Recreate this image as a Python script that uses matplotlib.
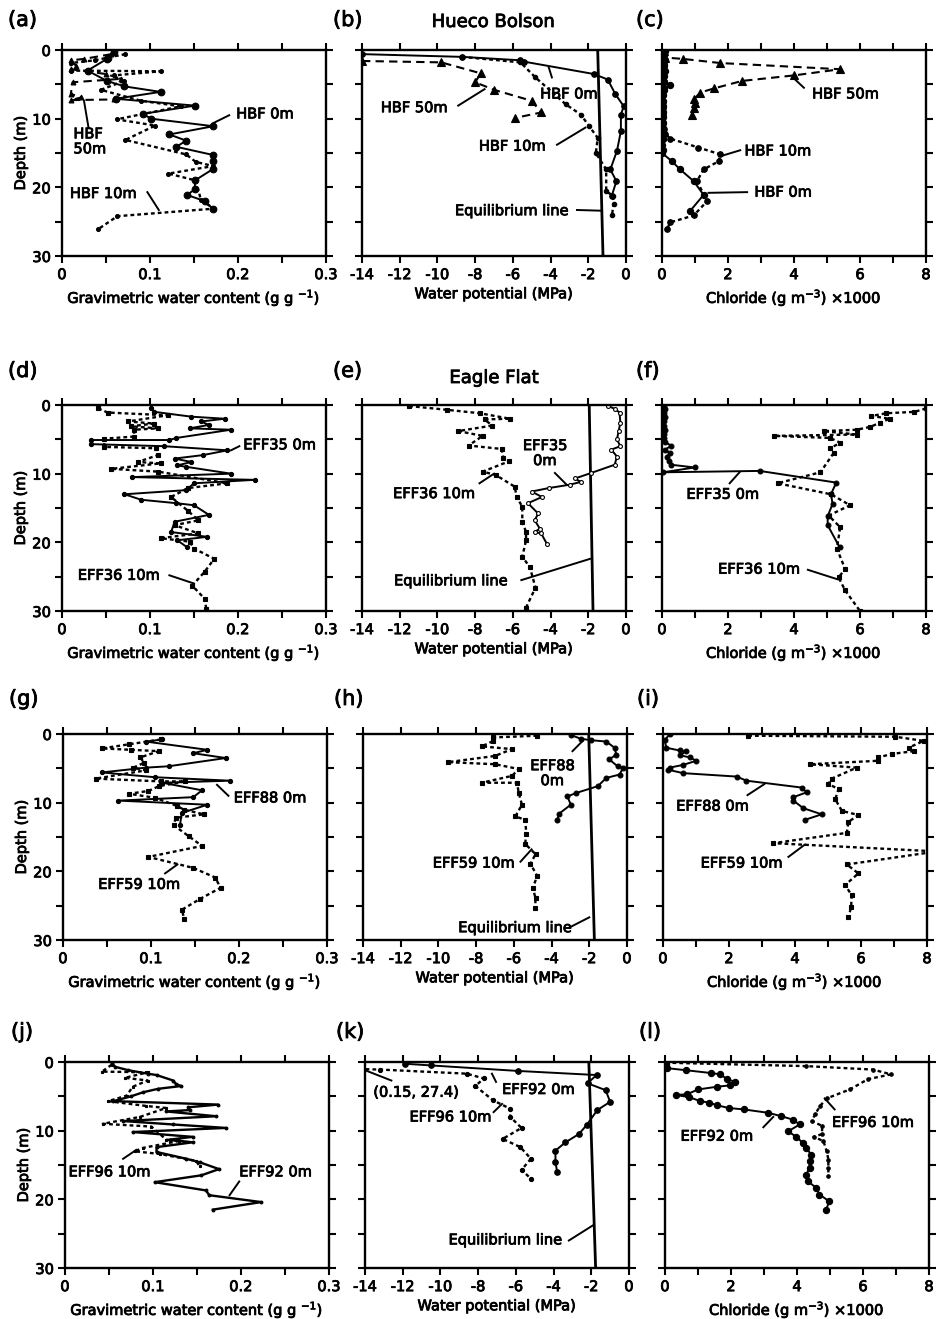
import matplotlib
matplotlib.use('Agg')
import matplotlib.pyplot as plt
import matplotlib.patheffects as pe
from matplotlib.text import Text
from matplotlib.ticker import MultipleLocator, FuncFormatter

plt.rcParams['font.family'] = ['DejaVu Sans']
plt.rcParams['axes.unicode_minus'] = False
plt.rcParams['mathtext.default'] = 'regular'
plt.rcParams['font.size'] = 10.5

# ---------------- data (value, depth in m) ----------------
# (a) Hueco Bolson, gravimetric water content
a_hbf0_x = [0.059, 0.052, 0.051, 0.029, 0.051, 0.071, 0.112, 0.061, 0.151, 0.092, 0.101, 0.172, 0.122,
            0.141, 0.130, 0.172, 0.172, 0.172, 0.151, 0.151, 0.142, 0.162, 0.172]
a_hbf0_d = [0.3, 1.1, 1.3, 3.0, 4.5, 5.3, 6.1, 7.1, 8.1, 9.3, 10.0, 11.1, 12.3, 13.2, 14.1, 15.3, 16.2,
            17.3, 19.0, 20.3, 21.1, 22.0, 23.2]
a_hbf10_x = [0.072, 0.037, 0.010, 0.010, 0.112, 0.059, 0.071, 0.044, 0.090, 0.135, 0.062, 0.106, 0.072,
             0.141, 0.152, 0.172, 0.121, 0.152, 0.158, 0.173, 0.063, 0.041]
a_hbf10_d = [0.6, 1.5, 1.9, 3.0, 3.1, 3.7, 4.5, 5.8, 7.4, 8.2, 10.1, 11.0, 13.1, 15.2, 16.3, 16.9, 18.0,
             19.0, 21.9, 23.1, 24.2, 26.1]
a_hbf50_x = [0.056, 0.025, 0.010, 0.016, 0.010, 0.050, 0.067, 0.012, 0.010, 0.022, 0.010, 0.059]
a_hbf50_d = [0.6, 1.3, 1.5, 2.3, 2.8, 3.5, 4.2, 4.7, 6.4, 6.9, 7.3, 7.2]

# (b) Hueco Bolson, water potential (MPa)
b_hbf0_x = [-14.0, -8.7, -5.6, -5.4, -1.7, -0.97, -0.57, -0.12, -0.27, -0.27, -0.48, -0.83, -0.51, -0.75]
b_hbf0_d = [0.6, 1.0, 1.5, 1.7, 3.5, 4.3, 6.4, 8.2, 9.4, 11.8, 14.7, 17.4, 19.1, 21.2]
b_hbf10_x = [-8.7, -5.6, -4.8, -3.2, -2.4, -1.95, -1.5, -1.6, -1.05, -1.05, -0.69, -0.66, -0.74]
b_hbf10_d = [1.0, 1.8, 4.0, 7.9, 9.4, 11.1, 12.8, 15.0, 17.4, 20.6, 21.2, 22.4, 24.0]
b_hbf50_x = [-14.0, -9.8, -7.7, -8.0, -7.0, -5.0, -4.5, -5.9]
b_hbf50_d = [1.6, 1.8, 3.4, 4.7, 5.8, 7.4, 9.1, 9.9]
b_eq_x = [-1.5, -1.22]

# (c) Hueco Bolson, chloride (g m-3 x1000)
c_hbf0_x = [0.1, 0.05, 0.1, 0.05, 0.08, 0.05, 0.06, 0.25, 0.05, 0.04, 0.03, 0.02, 0.02, 0.03, 0.02,
            0.03, 0.02, 0.02, 0.01, 0.02, 0.0, 0.3, 0.55, 0.96, 1.26, 0.86]
c_hbf0_d = [0.2, 0.8, 1.5, 2.2, 3.0, 3.8, 4.6, 5.1, 5.8, 6.6, 7.4, 8.2, 9.0, 9.8, 10.6, 11.4, 12.2,
            13.0, 13.8, 14.6, 15.0, 16.2, 17.4, 19.1, 21.1, 23.4]
c_hbf10_x = [0.05, 0.08, 0.06, 0.04, 0.05, 0.05, 0.04, 0.03, 0.02, 0.03, 0.02, 0.05, 0.1, 0.25, 1.1,
             1.77, 1.72, 1.26, 1.06, 1.37, 0.96, 0.25, 0.15]
c_hbf10_d = [0.5, 1.5, 2.5, 3.5, 4.5, 5.5, 6.5, 7.5, 8.5, 9.5, 10.5, 11.5, 12.2, 12.9, 14.2, 15.2,
             16.2, 17.4, 19.1, 22.0, 24.1, 25.1, 26.1]
c_hbf50_x = [0.05, 0.1, 0.64, 1.77, 5.4, 4.0, 2.43, 1.57, 1.16, 0.96, 1.0, 0.96, 0.9]
c_hbf50_d = [0.1, 1.1, 1.3, 1.9, 2.8, 3.7, 4.5, 5.6, 6.2, 7.2, 7.7, 8.4, 9.4]

# (d) Eagle Flat EFF35 / EFF36, water content
d_eff35_x = [0.101, 0.105, 0.147, 0.185, 0.158, 0.167, 0.145, 0.192, 0.130, 0.122, 0.033, 0.033, 0.116,
             0.188, 0.160, 0.128, 0.147, 0.131, 0.141, 0.192, 0.080, 0.219, 0.150, 0.141, 0.071, 0.090,
             0.130, 0.150, 0.167, 0.128, 0.124, 0.165, 0.131, 0.142]
d_eff35_d = [0.4, 1.0, 1.7, 2.0, 2.4, 2.9, 3.4, 3.6, 4.8, 5.1, 5.1, 5.7, 6.0, 6.6, 7.3, 7.8, 8.3, 8.8,
             9.0, 10.0, 10.5, 10.9, 11.4, 12.4, 13.0, 13.8, 14.3, 14.6, 16.0, 17.0, 18.5, 19.2, 19.7, 20.7]
d_eff36_x = [0.041, 0.052, 0.120, 0.075, 0.105, 0.078, 0.109, 0.082, 0.082, 0.048, 0.048, 0.107, 0.109,
             0.086, 0.112, 0.056, 0.109, 0.188, 0.143, 0.124, 0.143, 0.155, 0.128, 0.155, 0.112, 0.145,
             0.150, 0.173, 0.162, 0.148, 0.162, 0.164]
d_eff36_d = [0.5, 1.1, 1.5, 2.4, 2.7, 3.1, 3.4, 3.6, 4.6, 4.9, 6.1, 6.3, 7.3, 8.3, 8.5, 9.3, 9.7, 11.4,
             12.1, 13.4, 15.4, 16.8, 17.5, 18.7, 19.4, 19.9, 20.9, 22.4, 24.3, 26.3, 28.2, 29.7]

# (e) Eagle Flat EFF35 / EFF36, water potential
e_eff35_x = [-0.93, -0.57, -0.34, -0.3, -0.39, -0.48, -0.3, -0.78, -0.48, -0.6, -1.85, -2.7, -2.4,
             -2.97, -4.1, -5.0, -4.46, -5.2, -4.66, -4.84, -4.57, -4.84, -4.5, -4.2]
e_eff35_d = [0.15, 0.6, 1.1, 2.6, 3.8, 5.0, 6.0, 6.5, 7.5, 8.7, 9.9, 10.7, 11.2, 11.6, 12.1, 12.6, 13.4,
             14.3, 15.8, 16.8, 18.0, 18.5, 18.7, 20.2]
e_eff36_x = [-11.5, -9.5, -7.75, -6.15, -7.5, -7.1, -8.9, -7.6, -8.35, -6.6, -6.5, -6.2, -7.6, -6.9,
             -5.9, -5.8, -5.5, -5.5, -5.3, -5.3, -5.5, -5.1, -4.8, -5.3]
e_eff36_d = [0.15, 0.7, 1.2, 2.0, 2.1, 3.0, 3.8, 4.5, 5.9, 6.4, 7.7, 8.2, 9.7, 10.2, 11.9, 13.4, 14.8,
             17.0, 18.5, 19.7, 22.1, 23.6, 26.6, 29.5]
e_eq_x = [-1.95, -1.75]

# (f) Eagle Flat EFF35 / EFF36, chloride
f_eff35_x = [0.05, 0.08, 0.06, 0.08, 0.07, 0.06, 0.08, 0.07, 0.06, 0.08, 0.28, 0.1, 0.23, 0.15, 0.2,
             0.28, 0.99, 0.03, 2.96, 5.28, 5.12, 5.17, 5.02, 5.02, 5.38]
f_eff35_d = [0.1, 0.6, 1.2, 1.8, 2.4, 3.0, 3.6, 4.2, 4.8, 5.4, 5.9, 6.5, 7.0, 7.6, 8.2, 8.7, 9.1, 9.8,
             9.6, 11.3, 13.0, 14.4, 16.2, 17.5, 20.7]
f_eff36_x = [8.0, 7.65, 6.8, 6.34, 6.9, 6.6, 6.3, 5.9, 4.9, 5.9, 3.4, 5.1, 5.4, 5.1, 5.2, 4.8, 3.5, 5.12,
             5.7, 5.05, 5.4, 5.3, 5.55, 5.35, 5.55, 6.0]
f_eff36_d = [0.5, 1.0, 1.2, 1.6, 2.0, 2.6, 3.2, 3.6, 3.8, 4.3, 4.5, 4.8, 5.5, 6.3, 7.0, 9.8, 11.4, 13.0,
             14.6, 16.1, 17.8, 20.9, 23.9, 25.1, 27.0, 30.0]

# (g) Eagle Flat EFF88 / EFF59, water content
g_eff88_x = [0.113, 0.094, 0.164, 0.148, 0.185, 0.120, 0.094, 0.044, 0.105, 0.190, 0.113, 0.158, 0.148,
             0.063, 0.164, 0.135, 0.133]
g_eff88_d = [0.8, 1.1, 2.3, 2.8, 3.5, 4.7, 4.9, 5.6, 6.3, 6.8, 7.1, 8.2, 9.2, 9.7, 10.3, 11.5, 13.2]
g_eff59_x = [0.111, 0.075, 0.044, 0.077, 0.109, 0.088, 0.092, 0.080, 0.094, 0.037, 0.111, 0.139, 0.109,
             0.097, 0.075, 0.105, 0.130, 0.137, 0.160, 0.128, 0.126, 0.143, 0.158, 0.097, 0.148, 0.173,
             0.179, 0.156, 0.135, 0.138]
g_eff59_d = [0.8, 1.5, 2.1, 2.3, 2.5, 3.4, 4.2, 4.9, 5.3, 6.5, 6.9, 6.9, 7.6, 8.3, 8.7, 9.3, 10.5, 11.0,
             11.7, 12.2, 13.3, 14.9, 16.3, 17.9, 19.5, 20.9, 22.4, 24.0, 25.6, 27.0]

# (h) Eagle Flat EFF88 / EFF59, water potential
h_eff88_x = [-2.98, -2.44, -1.91, -1.1, -0.66, -0.57, -0.94, -0.5, -0.21, -0.39, -1.1, -1.55, -2.71,
             -3.16, -2.98, -3.6, -3.7]
h_eff88_d = [0.15, 0.7, 0.9, 1.1, 2.0, 3.0, 3.7, 4.7, 4.9, 5.9, 6.4, 7.6, 8.6, 9.1, 10.3, 11.6, 12.5]
h_eff59_x = [-4.76, -7.08, -7.08, -7.7, -6.1, -7.0, -9.5, -7.0, -5.74, -6.1, -7.7, -5.83, -5.74, -5.57,
             -5.92, -5.4, -5.34, -5.4, -4.85, -5.12, -4.76, -5.0, -4.85, -4.87]
h_eff59_d = [0.25, 0.5, 1.0, 1.8, 2.2, 3.2, 4.1, 4.4, 5.1, 6.1, 7.1, 7.1, 8.6, 10.3, 12.0, 12.5, 14.5,
             16.0, 17.5, 18.9, 20.7, 22.4, 23.9, 25.4]
h_eq_x = [-2.03, -1.73]

# (i) Eagle Flat EFF88 / EFF59, chloride
i_eff88_x = [0.2, 0.05, 0.1, 0.5, 0.71, 0.51, 0.81, 1.01, 0.61, 0.2, 0.15, 0.61, 2.23, 2.53, 4.2, 4.35,
             3.95, 3.95, 4.25, 4.81, 4.3]
i_eff88_d = [0.05, 0.9, 2.0, 2.4, 2.5, 3.1, 3.4, 3.9, 4.5, 4.9, 5.2, 5.7, 6.2, 6.8, 7.8, 8.5, 9.2, 9.7,
             10.8, 11.7, 12.5]
i_eff59_x = [2.58, 7.04, 7.9, 7.44, 7.6, 6.94, 6.53, 6.51, 4.46, 5.87, 5.11, 5.01, 5.32, 5.22, 5.42,
             5.92, 5.62, 5.57, 3.34, 8.3, 5.57, 5.92, 5.52, 5.72, 5.7, 5.62]
i_eff59_d = [0.25, 0.4, 1.0, 2.0, 2.5, 2.9, 3.4, 3.9, 4.4, 4.9, 6.5, 7.3, 8.0, 9.5, 11.2, 11.8, 12.8,
             14.4, 15.9, 17.1, 19.0, 20.3, 22.0, 23.5, 25.2, 26.7]

# (j) Eagle Flat EFF92 / EFF96, water content
j_eff92_x = [0.053, 0.057, 0.072, 0.094, 0.104, 0.123, 0.126, 0.132, 0.106, 0.089, 0.075, 0.055, 0.174,
             0.140, 0.142, 0.115, 0.172, 0.066, 0.123, 0.183, 0.077, 0.145, 0.119, 0.145, 0.104, 0.104,
             0.138, 0.153, 0.175, 0.155, 0.102, 0.160, 0.164, 0.223, 0.168]
j_eff92_d = [0.1, 0.7, 1.2, 1.7, 1.9, 2.7, 3.2, 3.5, 3.9, 4.4, 5.0, 5.7, 6.2, 6.6, 7.0, 7.2, 7.9, 8.6,
             9.1, 9.6, 10.2, 10.9, 11.3, 11.7, 12.4, 13.1, 14.1, 14.6, 15.6, 16.5, 17.5, 18.7, 19.4,
             20.4, 21.5]
j_eff96_x = [0.053, 0.042, 0.094, 0.068, 0.094, 0.077, 0.070, 0.049, 0.092, 0.115, 0.085, 0.043, 0.098,
             0.115, 0.130, 0.089, 0.079, 0.108, 0.149, 0.153]
j_eff96_d = [0.4, 1.4, 1.5, 2.3, 2.7, 3.6, 4.9, 5.7, 6.4, 6.7, 8.0, 9.0, 9.4, 11.3, 11.5, 12.5, 13.0,
             13.4, 14.4, 15.2]

# (k) Eagle Flat EFF92 / EFF96, water potential (first EFF96 value is off scale: -27.4 MPa at 0.15 m)
k_eff92_x = [-11.9, -10.5, -5.9, -1.72, -2.2, -1.24, -1.0, -1.68, -2.25, -2.66, -3.37, -3.9, -3.9, -3.81]
k_eff92_d = [0.25, 0.5, 1.3, 1.9, 3.1, 4.1, 5.8, 7.0, 9.2, 10.5, 11.7, 12.9, 14.6, 16.0]
k_eff96_x = [-27.4, -13.2, -8.6, -7.7, -8.15, -7.2, -6.3, -6.3, -5.7, -6.7, -5.76, -5.2, -5.7, -5.2]
k_eff96_d = [0.15, 1.1, 1.7, 2.4, 3.5, 5.6, 6.8, 8.0, 9.6, 11.2, 12.4, 14.1, 15.7, 17.0]
k_eq_x = [-2.13, -1.77]

# (l) Eagle Flat EFF92 / EFF96, chloride
l_eff92_x = [0.02, 0.07, 0.64, 1.38, 1.68, 1.88, 2.13, 1.98, 1.58, 1.0, 0.67, 0.32, 0.72, 1.07, 1.33,
             1.58, 1.93, 2.38, 3.13, 3.53, 3.88, 4.08, 3.73, 3.98, 4.18, 4.28, 4.43, 4.38, 4.38, 4.28,
             4.33, 4.58, 4.68, 4.98, 4.88]
l_eff92_d = [0.3, 0.9, 1.2, 1.6, 1.8, 2.5, 2.9, 3.4, 3.6, 4.0, 4.7, 4.8, 5.1, 5.7, 5.9, 6.3, 6.7, 6.9,
             7.4, 7.9, 8.4, 9.1, 10.1, 10.9, 11.8, 12.5, 13.5, 14.4, 15.4, 16.4, 17.4, 18.3, 19.3, 20.3,
             21.5]
l_eff96_x = [0.02, 4.28, 6.3, 6.85, 6.15, 5.6, 4.9, 4.7, 4.55, 4.45, 4.76, 4.76, 4.5, 4.8, 4.9, 4.95,
             4.95, 4.95]
l_eff96_d = [0.1, 0.6, 1.1, 1.8, 2.5, 4.0, 5.3, 6.4, 7.6, 8.6, 9.3, 10.5, 10.9, 11.5, 13.0, 14.2, 15.4,
             16.6]

eq_depth = [0, 30]

# ---------------- layout (pixels) ----------------
W, H = 936, 1319
col_left = [62, 362, 662]
row_top = [50, 405, 734, 1062]
row_shift = [0, 0, 1, 3]
ax_w, ax_h = 264, 206

SOLID = dict(color='k', ls='-', lw=1.4)
DOT = dict(color='k', ls=(0, (1.6, 1.3)), lw=1.7)
DASH = dict(color='k', ls=(0, (4, 2.5)), lw=1.5)

fig = plt.figure(figsize=(W / 100, H / 100), dpi=100)


def make_ax(row, col):
    l = col_left[col] + row_shift[row]
    t = row_top[row]
    return fig.add_axes([l / W, 1 - (t + ax_h) / H, ax_w / W, ax_h / H])


def fmt_w(v, p):
    if abs(v * 10 - round(v * 10)) > 1e-6:
        return ''
    return '0' if abs(v) < 1e-9 else f'{v:.1f}'


def fmt_c(v, p):
    return f'{v:.0f}' if round(v) % 2 == 0 else ''


def fmt_depth(v, p):
    return f'{v:.0f}' if round(v) % 10 == 0 else ''


def style(ax, kind, first):
    ax.set_ylim(30, 0)
    ax.yaxis.set_major_locator(MultipleLocator(5))
    if first:
        ax.yaxis.set_major_formatter(FuncFormatter(fmt_depth))
        ax.set_ylabel('Depth (m)', fontsize=10.5, labelpad=3)
    if kind == 'w':
        ax.set_xlim(0, 0.3)
        ax.xaxis.set_major_locator(MultipleLocator(0.05))
        ax.xaxis.set_major_formatter(FuncFormatter(fmt_w))
        ax.set_xlabel('Gravimetric water content (g g $^{-1}$)', labelpad=3)
    elif kind == 'p':
        ax.set_xlim(-14, 0)
        ax.xaxis.set_major_locator(MultipleLocator(2))
        ax.xaxis.set_major_formatter(FuncFormatter(lambda v, p: f'{v:.0f}'))
        ax.set_xlabel('Water potential (MPa)', labelpad=3)
    else:
        ax.set_xlim(0, 8)
        ax.xaxis.set_major_locator(MultipleLocator(1))
        ax.xaxis.set_major_formatter(FuncFormatter(fmt_c))
        ax.set_xlabel('Chloride (g m$^{-3}$) \u00d71000', labelpad=3)
    ax.tick_params(direction='out', length=5, width=1.5, top=True, right=True,
                   labelleft=first, labelsize=10.5, pad=3)
    for s in ax.spines.values():
        s.set_linewidth(1.7)


def note(ax, text, tx, ty, line, ha='left'):
    ax.text(tx, ty, text, ha=ha, va='center', fontsize=10.5, linespacing=1.0)
    ax.plot(line[:2], line[2:], color='k', lw=1.4, clip_on=False)


def series(ax, x, d, ls, marker, ms, mfc='k'):
    ax.plot(x, d, marker=marker, ms=ms, mfc=mfc, mec='k', mew=0.8, **ls)


# ---------------- Hueco Bolson ----------------
ax = make_ax(0, 0)
style(ax, 'w', True)
series(ax, a_hbf10_x, a_hbf10_d, DOT, 'o', 2.8)
series(ax, a_hbf50_x, a_hbf50_d, DASH, '^', 3.5)
series(ax, a_hbf0_x, a_hbf0_d, SOLID, 'o', 4.8)
note(ax, 'HBF 0m', 0.198, 9.3, [0.190, 0.171, 9.5, 10.7])
note(ax, 'HBF\n50m', 0.013, 13.3, [0.030, 0.025, 11.2, 7.4])
note(ax, 'HBF 10m', 0.009, 20.9, [0.097, 0.110, 20.7, 23.3])

ax = make_ax(0, 1)
style(ax, 'p', False)
ax.plot(b_eq_x, eq_depth, color='k', lw=2.0)
series(ax, b_hbf10_x, b_hbf10_d, DOT, 'o', 3.2)
series(ax, b_hbf50_x, b_hbf50_d, DASH, '^', 6)
series(ax, b_hbf0_x, b_hbf0_d, SOLID, 'o', 4)
note(ax, 'HBF 0m', -4.55, 6.4, [-3.93, -4.1, 4.0, 2.5])
note(ax, 'HBF 50m', -13.0, 8.4, [-8.9, -7.5, 8.1, 5.7])
note(ax, 'HBF 10m', -7.8, 14.0, [-3.66, -2.15, 13.8, 11.3])
note(ax, 'Equilibrium line', -9.07, 23.4, [-2.6, -1.36, 23.3, 23.4])

ax = make_ax(0, 2)
style(ax, 'c', False)
series(ax, c_hbf10_x, c_hbf10_d, DOT, 'o', 4)
series(ax, c_hbf50_x, c_hbf50_d, DASH, '^', 6)
series(ax, c_hbf0_x, c_hbf0_d, SOLID, 'o', 4.5)
note(ax, 'HBF 50m', 4.55, 6.4, [4.3, 3.99, 5.5, 4.1])
note(ax, 'HBF 10m', 2.5, 14.7, [2.37, 1.82, 14.6, 15.4])
note(ax, 'HBF 0m', 2.8, 20.7, [2.58, 1.41, 20.7, 20.8])

# ---------------- Eagle Flat EFF35 / EFF36 ----------------
ax = make_ax(1, 0)
style(ax, 'w', True)
series(ax, d_eff36_x, d_eff36_d, DOT, 's', 2.8)
series(ax, d_eff35_x, d_eff35_d, SOLID, 'o', 3)
note(ax, 'EFF35 0m', 0.206, 5.8, [0.2015, 0.192, 6.0, 6.6])
note(ax, 'EFF36 10m', 0.018, 24.8, [0.122, 0.150, 24.8, 26.0])

ax = make_ax(1, 1)
style(ax, 'p', False)
ax.plot(e_eq_x, eq_depth, color='k', lw=2.0)
series(ax, e_eff36_x, e_eff36_d, DOT, 's', 3)
series(ax, e_eff35_x, e_eff35_d, SOLID, 'o', 2.8, mfc='white')
note(ax, 'EFF35\n0m', -4.3, 7.0, [-3.77, -3.15, 9.9, 11.6], ha='center')
note(ax, 'EFF36 10m', -12.35, 12.9, [-7.77, -7.0, 11.4, 10.0])
note(ax, 'Equilibrium line', -12.3, 25.6, [-5.55, -1.9, 25.5, 22.4])

ax = make_ax(1, 2)
style(ax, 'c', False)
series(ax, f_eff36_x, f_eff36_d, DOT, 's', 3.2)
series(ax, f_eff35_x, f_eff35_d, SOLID, 'o', 3.5)
note(ax, 'EFF35 0m', 0.74, 13.0, [2.05, 2.35, 11.4, 9.8])
note(ax, 'EFF36 10m', 1.7, 23.9, [4.42, 5.33, 24.0, 25.4])

# ---------------- Eagle Flat EFF88 / EFF59 ----------------
ax = make_ax(2, 0)
style(ax, 'w', True)
series(ax, g_eff59_x, g_eff59_d, DOT, 's', 3)
series(ax, g_eff88_x, g_eff88_d, SOLID, 'o', 3)
note(ax, 'EFF88 0m', 0.194, 9.3, [0.188, 0.175, 9.0, 7.4])
note(ax, 'EFF59 10m', 0.040, 21.9, [0.116, 0.130, 20.3, 19.0])

ax = make_ax(2, 1)
style(ax, 'p', False)
ax.plot(h_eq_x, eq_depth, color='k', lw=2.0)
series(ax, h_eff59_x, h_eff59_d, DOT, 's', 3.5)
series(ax, h_eff88_x, h_eff88_d, SOLID, 'o', 3.5)
note(ax, 'EFF88\n0m', -3.96, 5.7, [-2.89, -2.35, 2.5, 1.0], ha='center')
note(ax, 'EFF59 10m', -10.3, 18.8, [-5.65, -5.06, 18.6, 16.8])
note(ax, 'Equilibrium line', -8.95, 28.2, [-3.07, -2.0, 28.2, 26.7])

ax = make_ax(2, 2)
style(ax, 'c', False)
series(ax, i_eff59_x, i_eff59_d, DOT, 's', 3.5)
series(ax, i_eff88_x, i_eff88_d, SOLID, 'o', 3.5)
note(ax, 'EFF88 0m', 0.4, 10.5, [2.56, 3.07, 8.9, 7.3])
note(ax, 'EFF59 10m', 1.14, 18.8, [3.8, 4.3, 17.9, 16.1])

# ---------------- Eagle Flat EFF92 / EFF96 ----------------
ax = make_ax(3, 0)
style(ax, 'w', True)
series(ax, j_eff96_x, j_eff96_d, DOT, 's', 2)
series(ax, j_eff92_x, j_eff92_d, dict(SOLID, lw=1.7), 'o', 2)
note(ax, 'EFF96 10m', 0.004, 16.0, [0.066, 0.081, 14.1, 12.8])
note(ax, 'EFF92 0m', 0.198, 16.0, [0.187, 0.198, 19.4, 17.4])

ax = make_ax(3, 1)
style(ax, 'p', False)
ax.plot(k_eq_x, eq_depth, color='k', lw=2.0)
series(ax, k_eff96_x, k_eff96_d, DOT, 'o', 3)
series(ax, k_eff92_x, k_eff92_d, SOLID, 'o', 4)
note(ax, '(0.15, 27.4)', -13.56, 4.4, [-12.6, -13.9, 2.7, 1.3])
note(ax, 'EFF92 0m', -6.73, 4.0, [-7.05, -7.27, 2.9, 1.7])
note(ax, 'EFF96 10m', -11.64, 8.0, [-7.18, -6.73, 7.3, 6.1])
note(ax, 'Equilibrium line', -9.57, 25.9, [-3.19, -1.86, 26.0, 23.7])

ax = make_ax(3, 2)
style(ax, 'c', False)
series(ax, l_eff96_x, l_eff96_d, DOT, 'o', 2.5)
series(ax, l_eff92_x, l_eff92_d, SOLID, 'o', 4.5)
note(ax, 'EFF92 0m', 0.47, 10.8, [2.98, 3.28, 9.5, 8.0])
note(ax, 'EFF96 10m', 5.06, 8.8, [5.14, 4.84, 6.9, 5.3])

# ---------------- panel letters and site titles ----------------
letters = 'abcdefghijkl'
label_x = [8, 333, 636]
label_y = [20, 371, 699, 1032]
for r in range(4):
    for c in range(3):
        fig.text((label_x[c] + row_shift[r]) / W, 1 - label_y[r] / H, f'({letters[r * 3 + c]})',
                 fontsize=15, ha='left', va='center')
fig.text(493 / W, 1 - 22 / H, 'Hueco Bolson', fontsize=13, ha='center', va='center')
fig.text(494 / W, 1 - 378 / H, 'Eagle Flat', fontsize=13, ha='center', va='center')

# heavier print look, like the scanned original
for t in fig.findobj(Text):
    t.set_path_effects([pe.withStroke(linewidth=0.6, foreground='k')])

fig.savefig('out.png', dpi=100)
